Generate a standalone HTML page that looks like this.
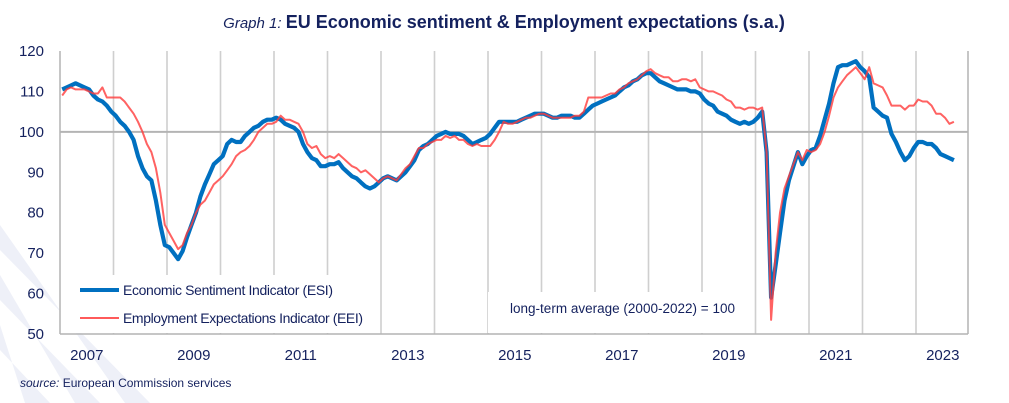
<!DOCTYPE html>
<html><head><meta charset="utf-8"><style>
html,body{margin:0;padding:0;background:#fff;width:1009px;height:403px;overflow:hidden}
svg{display:block;font-family:"Liberation Sans",Arial,sans-serif}
</style></head><body>
<svg id="chart" width="1009" height="403" viewBox="0 0 1009 403" xmlns="http://www.w3.org/2000/svg">
<g fill="#eef0f8">
<polygon points="0,225 0,250 150,403 125,403"/>
<polygon points="0,275 0,300 100,403 75,403"/>
<polygon points="0,325 0,350 50,403 25,403"/>
</g>
<text x="504" y="28" text-anchor="middle" fill="#14215e"><tspan font-style="italic" font-size="15">Graph 1: </tspan><tspan font-weight="bold" font-size="18">EU Economic sentiment &amp; Employment expectations (s.a.)</tspan></text>
<g id="grid"></g>
<g id="yaxis"></g>
<g id="xaxis"></g>
<g id="series"></g>
<g>
<rect x="61" y="275" width="314" height="58" fill="#fff"/>
<line x1="80" y1="290" x2="119" y2="290" stroke="#0070c0" stroke-width="4"/>
<text x="123" y="295" font-size="14" fill="#14215e" textLength="210">Economic Sentiment Indicator (ESI)</text>
<line x1="80" y1="318" x2="119" y2="318" stroke="#ff5a5a" stroke-width="2"/>
<text x="123" y="323" font-size="14" fill="#14215e" textLength="240">Employment Expectations Indicator (EEI)</text>
</g>
<g>
<rect x="488" y="292" width="262" height="41" fill="#fff"/>
<text x="510" y="313" font-size="13.5" fill="#14215e" textLength="225">long-term average (2000-2022) = 100</text>
</g>
<text x="20" y="387" font-size="12" fill="#14215e"><tspan font-style="italic">source:</tspan> European Commission services</text>
</svg>
<script>
const yTicks = [50,60,70,80,90,100,110,120];
const xLabels = [2007,2009,2011,2013,2015,2017,2019,2021,2023];
const startYear = 2007;
const esi = [
110.5,111,111.5,112,111.5,111,110.5,109,108,107.5,106.5,105,
104,102.5,101.5,100,98,94,91,89,88,83,77,72,
71.5,70,68.5,70.5,74,77,80,84,87,89.5,92,93,
94,97,98,97.5,97.5,99,100,101,101.5,102.5,103,103,
103.5,103,102,101.5,101,100,97,95,93.5,93,91.5,91.5,
92,92,92.5,91,90,89,88.5,87.5,86.5,86,86.5,87.5,
88.5,89,88.5,88,89,90,91.5,93,95.5,96.5,97,98,
99,99.5,100,99.5,99.5,99.5,99,98,97,97.5,98,98.5,
99.5,101,102.5,102.5,102.5,102.5,102.5,103,103.5,104,104.5,104.5,
104.5,104,103.5,103.5,104,104,104,103.5,103.5,104.5,105.5,106.5,
107,107.5,108,108.5,109,110,111,111.5,112.5,113,114,114.5,
114.5,113.5,112.5,112,111.5,111,110.5,110.5,110.5,110,110,109.5,
108,107,106.5,105,104.5,104,103,102.5,102,102.5,102,102.5,
103.5,105,95,59,67,75,83,88,91.5,95,92,94,
95.5,96,99,103,107,112,116,116.5,116.5,117,117.5,116,
115,113.5,106,105,104,103.5,99.5,97.5,95,93,94,96,
97.5,97.5,97,97,96,94.5,94,93.5,93];
const eei = [
109,110.5,111,110.5,110.5,110.5,110,109.5,109.5,111,108.5,108.5,
108.5,108.5,107.5,106,104.5,102.5,100,97,95,91,85,77,
75,73,71,72,75,77,80,82,83,85,87,88,
89,90.5,92,94,95,95.5,96.5,98,100,101,102,102,
102.5,104,103,103,102.5,102,100,97,96,96.5,94.5,93.5,
94,93.5,94.5,93.5,92.5,91.5,91,90,90.5,89.5,88.5,87.5,
88.5,89,88.5,88,89.5,91,92,94,96,96,97,97.5,
98,98,99,98.5,99,98,98,97,96.5,97,96.5,96.5,
96.5,98,100,102.5,102,102,102.5,103,103.5,103.5,104,104.5,
104.5,104,103.5,103.5,103.5,103.5,103.5,104,104,105,108.5,108.5,
108.5,108.5,109,109.5,109.5,110.5,111,112,112.5,113,114,115,
115.5,114.5,114,113.5,113.5,112.5,112.5,113,113,112.5,113,111,
110.5,110,110,109.5,109,108,107.5,106,106,105.5,106,106,
105.5,106,95,53.5,70,80,86,89,92,95,93,95.5,
95,95.5,97,100,104,108.5,111,112.5,114,115,116,114.5,
113,116,112,111.5,111,109,106.5,106.5,106.5,105.5,106.5,106.5,
108,107.5,107.5,106.5,104.5,104.5,103.5,102,102.5];

const NS='http://www.w3.org/2000/svg';
const L=60,R=968,T=51,B=334,yMin=50,yMax=120,yearW=53.5;
function yScale(v){return B-(v-yMin)/(yMax-yMin)*(B-T);}
function xYear(y){return L+(y-startYear)*yearW;}
function xMonth(m){return L+(m+0.5)*yearW/12;}
function mk(tag,attrs,parent){const e=document.createElementNS(NS,tag);for(const k in attrs)e.setAttribute(k,attrs[k]);parent.appendChild(e);return e;}
const grid=document.getElementById('grid'),ya=document.getElementById('yaxis'),xa=document.getElementById('xaxis'),ser=document.getElementById('series');
for(let y=startYear+1;xYear(y)<R-5;y++){
  const l=mk('line',{x1:xYear(y),x2:xYear(y),y1:T,y2:B,stroke:'#cfcfcf','stroke-width':1.6},grid);
  
  
}
const h=mk('line',{x1:L,x2:R,y1:yScale(100),y2:yScale(100),stroke:'#b4b4b4','stroke-width':2},grid);


mk('line',{x1:L,x2:L,y1:T,y2:B,stroke:'#b4b4b4','stroke-width':1.5},grid);
mk('line',{x1:R,x2:R,y1:T,y2:B,stroke:'#b4b4b4','stroke-width':1.5},grid);
mk('line',{x1:L,x2:R,y1:B,y2:B,stroke:'#b4b4b4','stroke-width':1.5},grid);
yTicks.forEach(v=>{
  const t=mk('text',{x:44,y:yScale(v)+5,'text-anchor':'end','font-size':15,fill:'#14215e'},ya);
  t.textContent=v;
  
  
});
xLabels.forEach(y=>{
  const t=mk('text',{x:xYear(y)+yearW/2,y:360,'text-anchor':'middle','font-size':15,fill:'#14215e'},xa);
  t.textContent=y;
  
  
});
function path(arr){return arr.map((v,i)=>(i?'L':'M')+xMonth(i).toFixed(1)+','+yScale(v).toFixed(1)).join('');}
const pe=mk('path',{d:path(esi),fill:'none',stroke:'#0070c0','stroke-width':4.2,'stroke-linejoin':'round'},ser);


const pr=mk('path',{d:path(eei),fill:'none',stroke:'#ff3b3b','stroke-opacity':0.8,'stroke-width':2,'stroke-linejoin':'round'},ser);


</script>
</body></html>
